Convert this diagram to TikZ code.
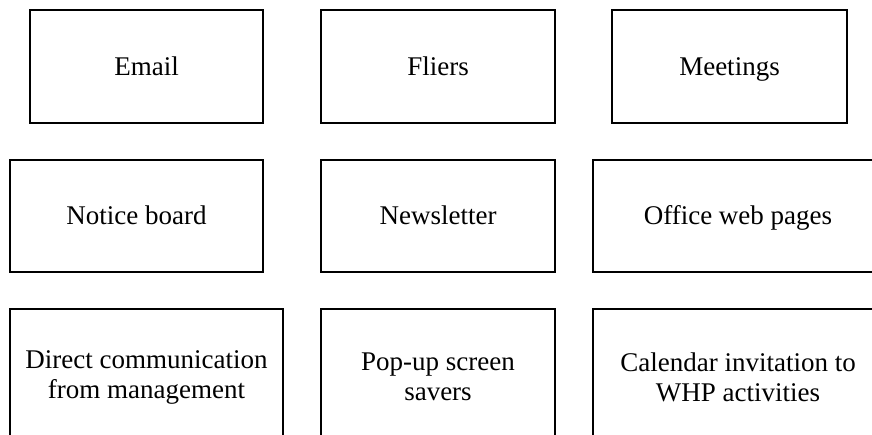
\documentclass[tikz,border=0pt]{standalone}
\usepackage{fontspec}
\setmainfont{Liberation Serif}
\begin{document}
\begin{tikzpicture}[x=1pt,y=-1pt,
  channel/.style={draw=black, line width=1.8pt, fill=white, inner sep=0pt,
    align=center, font=\fontsize{27}{30}\selectfont},
  oneline/.style={channel, text height=19pt, text depth=1pt},
]
\useasboundingbox (0,0) rectangle (872,435);
\clip (0,0) rectangle (872,435);
\fill[white] (0,0) rectangle (872,435);

% top row
\node[oneline, minimum width=233pt, minimum height=113pt] (email) at (146.5,66.5) {Email};
\node[oneline, minimum width=234pt, minimum height=113pt] (fliers) at (438,66.5) {Fliers};
\node[oneline, minimum width=235pt, minimum height=113pt] (meetings) at (729.5,66.5) {Meetings};

% middle row
\node[oneline, minimum width=253pt, minimum height=112pt] (notice) at (136.5,216) {Notice board};
\node[oneline, minimum width=234pt, minimum height=112pt] (newsletter) at (438,216) {Newsletter};
\node[oneline, minimum width=290pt, minimum height=112pt] (web) at (738,216) {Office web pages};

% bottom row (runs past the lower edge)
\node[channel, minimum width=273pt, minimum height=136pt] (direct) at (146.5,377) {Direct communication\\from management};
\node[channel, minimum width=234pt, minimum height=136pt] (popup) at (438,377) {Pop-up screen\\savers};
\node[channel, minimum width=290pt, minimum height=136pt] (calendar) at (738,377) {Calendar invitation to\\WHP activities};
\end{tikzpicture}
\end{document}
